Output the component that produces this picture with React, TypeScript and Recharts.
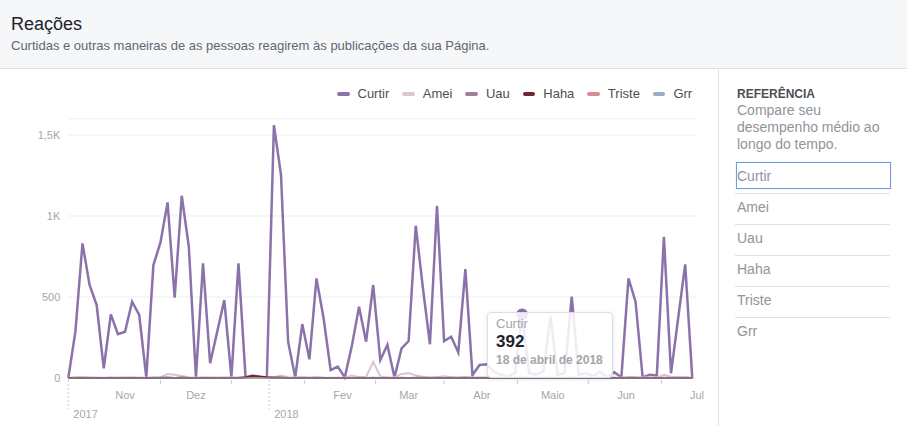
import React from "react";
import { LineChart, Line, XAxis, YAxis, CartesianGrid, Tooltip, Legend } from "recharts";

const FONT = "'Liberation Sans', Arial, Helvetica, sans-serif";

// Data: one point every 3 days starting on 8 Oct 2017
const START = { y: 2017, m: 9, d: 8 };
const STEP_DAYS = 3;

const curtir = [
  0, 286, 831, 574, 450, 60, 393, 271, 286, 471, 389, 4, 697, 837, 1084, 496, 1125, 810, 4, 708,
  91, 286, 481, 4, 708, 4, 15, 5, 3, 1561, 1253, 224, 4, 333, 115, 615, 370, 49, 70, 4,
  200, 440, 224, 574, 111, 204, 4, 183, 228, 940, 560, 208, 1063, 228, 255, 158, 672, 18, 80, 85,
  40, 20, 10, 30, 392, 30, 20, 40, 380, 20, 30, 502, 20, 30, 10, 40, 5, 35, 5, 615,
  471, 4, 20, 15, 872, 29, 365, 701, 0,
];
const amei = [
  2, 3, 2, 2, 3, 2, 2, 3, 4, 2, 3, 2, 3, 5, 25, 20, 12, 5, 3, 2,
  4, 3, 2, 3, 2, 3, 2, 2, 3, 5, 15, 5, 3, 4, 3, 5, 3, 2, 3, 2,
  15, 5, 8, 100, 10, 5, 3, 25, 30, 15, 8, 5, 6, 10, 5, 4, 6, 3, 4, 3,
  3, 4, 2, 3, 10, 4, 3, 2, 5, 3, 4, 6, 3, 2, 3, 4, 2, 3, 2, 6,
  5, 3, 4, 3, 20, 8, 4, 5, 2,
];
const uau = [
  0, 1, 0, 1, 0, 0, 1, 0, 0, 1, 0, 0, 1, 2, 1, 0, 1, 0, 0, 1,
  0, 0, 1, 0, 1, 0, 0, 0, 0, 3, 2, 0, 0, 1, 0, 1, 0, 0, 0, 0,
  0, 1, 0, 2, 0, 0, 0, 1, 0, 2, 1, 0, 2, 0, 1, 0, 1, 0, 0, 0,
  0, 0, 0, 0, 1, 0, 0, 0, 1, 0, 0, 1, 0, 0, 0, 0, 0, 0, 0, 1,
  1, 0, 0, 0, 2, 0, 1, 1, 0,
];
const haha = [
  0, 0, 1, 0, 0, 0, 0, 0, 0, 0, 0, 0, 0, 0, 1, 0, 1, 0, 0, 0,
  0, 0, 0, 0, 0, 4, 12, 10, 4, 1, 1, 0, 0, 0, 0, 0, 0, 0, 0, 0,
  0, 0, 0, 0, 0, 0, 0, 0, 0, 0, 0, 0, 0, 0, 0, 0, 0, 0, 0, 0,
  0, 0, 0, 0, 0, 0, 0, 0, 0, 0, 0, 0, 0, 0, 0, 0, 0, 0, 0, 0,
  0, 0, 0, 0, 0, 0, 0, 0, 0,
];
const triste = new Array(89).fill(0) as number[];
const grr = new Array(89).fill(0) as number[];

// legend order
const SERIES = [
  { key: "Curtir", color: "#8b72aa", values: curtir, width: 2.5, opacity: 1 },
  { key: "Amei", color: "#d9c6ce", values: amei, width: 2, opacity: 1 },
  { key: "Uau", color: "#a07f98", values: uau, width: 2, opacity: 1 },
  { key: "Haha", color: "#6e2631", values: haha, width: 2, opacity: 1 },
  { key: "Triste", color: "#d98b91", values: triste, width: 2, opacity: 1 },
  { key: "Grr", color: "#9caac9", values: grr, width: 2, opacity: 0.55 },
];
// drawing order (bottom -> top)
const DRAW_ORDER = ["Curtir", "Amei", "Uau", "Triste", "Haha", "Grr"];

// Axis ticks (days since start)
const monthTicks = [
  { day: 24, label: "Nov" },
  { day: 54, label: "Dez" },
  { day: 116, label: "Fev" },
  { day: 144, label: "Mar" },
  { day: 175, label: "Abr" },
  { day: 205, label: "Maio" },
  { day: 236, label: "Jun" },
  { day: 266, label: "Jul" },
];
const yearTicks = [
  { day: 0, label: "2017" },
  { day: 85, label: "2018" },
];
const midMonthTicks = [39, 69, 100, 130, 159, 190, 220, 251];
const yTicks = [0, 500, 1000, 1500];

const monthNames = ["janeiro", "fevereiro", "março", "abril", "maio", "junho", "julho", "agosto", "setembro", "outubro", "novembro", "dezembro"];
const sideItems = ["Amei", "Uau", "Haha", "Triste", "Grr"];
const TOOLTIP_INDEX = 64;

const data = curtir.map((_, i) => {
  const row: any = { day: i * STEP_DAYS };
  SERIES.forEach((s) => (row[s.key] = s.values[i]));
  return row;
});

const allTicks = [...yearTicks.map((t) => t.day), ...monthTicks.map((t) => t.day), ...midMonthTicks].sort((a, b) => a - b);

const fmtY = (v: number) => (v >= 1000 ? String(v / 1000).replace(".", ",") + "K" : String(v));

const XTick = (props: any) => {
  const { x, y, payload } = props;
  const v = payload.value;
  const m = monthTicks.find((t) => t.day === v);
  const yr = yearTicks.find((t) => t.day === v);
  if (yr) {
    return (
      <g>
        <line x1={x} x2={x} y1={y + 2} y2={y + 31} stroke="#c9ccd1" strokeDasharray="2 2" />
        <text x={x + 5} y={y + 40} fill="#a4a7ad" fontSize={11} fontFamily={FONT}>{yr.label}</text>
      </g>
    );
  }
  if (m) {
    return (
      <text x={x} y={y + 21} textAnchor="middle" fill="#a4a7ad" fontSize={11} fontFamily={FONT}>{m.label}</text>
    );
  }
  return <line x1={x} x2={x} y1={y + 2} y2={y + 6} stroke="#c9ccd1" />;
};

const dateLabel = (day: number) => {
  const d = new Date(START.y, START.m, START.d + day);
  return `${d.getDate()} de ${monthNames[d.getMonth()]} de ${d.getFullYear()}`;
};

const TooltipBox = (props: any) => {
  const { active, payload } = props;
  if (!active || !payload || !payload.length) return null;
  const p = payload.find((q: any) => q.dataKey === "Curtir") || payload[0];
  return (
    <div
      style={{
        width: 126,
        height: 66,
        boxSizing: "border-box",
        background: "rgba(255,255,255,0.86)",
        border: "1px solid #dddfe2",
        borderRadius: 4,
        boxShadow: "0 1px 4px rgba(0,0,0,0.12)",
        padding: "3px 8px",
        fontFamily: FONT,
      }}
    >
      <div style={{ fontSize: 13, lineHeight: "16px", color: "#a3a6ab" }}>{p.name}</div>
      <div style={{ fontSize: 17, lineHeight: "20px", fontWeight: "bold", color: "#1d2129" }}>{p.value}</div>
      <div style={{ fontSize: 12, lineHeight: "16px", fontWeight: "bold", color: "#a3a6ab", whiteSpace: "nowrap" }}>
        {dateLabel(p.payload.day)}
      </div>
    </div>
  );
};

const LegendContent = (props: any) => {
  const items = [...(props.payload || [])].sort(
    (a: any, b: any) => SERIES.findIndex((s) => s.key === a.value) - SERIES.findIndex((s) => s.key === b.value)
  );
  return (
    <div style={{ display: "flex", alignItems: "center", fontFamily: FONT, fontSize: 13, lineHeight: "16px", color: "#4b4f56", whiteSpace: "nowrap" }}>
      {items.map((it: any) => {
        const s = SERIES.find((q) => q.key === it.value);
        return (
          <div key={it.value} style={{ display: "flex", alignItems: "center", marginRight: 13 }}>
            <span style={{ display: "inline-block", width: 12.5, height: 3.5, borderRadius: 2, background: s ? s.color : it.color, marginRight: 8 }} />
            <span>{it.value}</span>
          </div>
        );
      })}
    </div>
  );
};

export default function App() {
  const drawn = DRAW_ORDER.map((k) => SERIES.find((s) => s.key === k)!);
  return (
    <div style={{ position: "absolute", left: 0, top: 0, width: 907, height: 426, background: "#fff", fontFamily: FONT, overflow: "hidden" }}>
      {/* header */}
      <div style={{ position: "absolute", left: 0, top: 0, width: 907, height: 68, background: "#f6f7f9", borderBottom: "1px solid #dddfe2" }} />
      <div style={{ position: "absolute", left: 11, top: 12.8, fontSize: 18, lineHeight: "22px", color: "#1d2129", whiteSpace: "nowrap" }}>Reações</div>
      <div style={{ position: "absolute", left: 11, top: 38, fontSize: 13, lineHeight: "16px", color: "#606770", whiteSpace: "nowrap" }}>
        Curtidas e outras maneiras de as pessoas reagirem às publicações da sua Página.
      </div>

      {/* chart */}
      <div style={{ position: "absolute", left: 0, top: 69 }}>
        <LineChart width={718} height={357} data={data} margin={{ top: 49.8, right: 21, bottom: 8, left: 0 }}>
          <CartesianGrid vertical={false} stroke="#ebedf0" />
          <XAxis
            dataKey="day"
            type="number"
            domain={[0, 266]}
            ticks={allTicks}
            interval={0}
            tick={<XTick />}
            tickLine={false}
            tickSize={0}
            tickMargin={0}
            axisLine={false}
            height={40}
          />
          <YAxis
            width={68.3}
            domain={[0, 1600]}
            ticks={yTicks}
            tickFormatter={fmtY}
            axisLine={false}
            tickLine={false}
            tick={{ fill: "#a4a7ad", fontSize: 11, fontFamily: FONT }}
          />
          <Legend
            layout="horizontal"
            verticalAlign="middle"
            align="center"
            wrapperStyle={{ top: 17, left: 337, width: 380, height: 16 }}
            content={<LegendContent />}
          />
          <Tooltip
            content={<TooltipBox />}
            defaultIndex={TOOLTIP_INDEX}
            position={{ x: 487, y: 243 }}
            cursor={false}
            isAnimationActive={false}
          />
          {drawn.map((s) => (
            <Line
              key={s.key}
              type="linear"
              dataKey={s.key}
              name={s.key}
              stroke={s.color}
              strokeWidth={s.width}
              strokeOpacity={s.opacity}
              dot={false}
              activeDot={s.key === "Curtir" ? { r: 5, fill: s.color, stroke: s.color } : false}
              isAnimationActive={false}
            />
          ))}
        </LineChart>
      </div>

      {/* right panel */}
      <div style={{ position: "absolute", left: 718, top: 69, width: 1, height: 357, background: "#dddfe2" }} />
      <div style={{ position: "absolute", left: 737, top: 86.8, fontSize: 12, lineHeight: "14px", fontWeight: "bold", color: "#4b4f56" }}>REFERÊNCIA</div>
      <div style={{ position: "absolute", left: 737, top: 102.2, width: 150, fontSize: 14, lineHeight: "17px", color: "#90949c" }}>
        Compare seu
        <br />
        desempenho médio ao
        <br />
        longo do tempo.
      </div>
      <div
        style={{
          position: "absolute",
          left: 735.5,
          top: 162,
          width: 155,
          height: 27,
          boxSizing: "border-box",
          border: "1px solid #6f9fe0",
          boxShadow: "0 0 1px rgba(80,140,230,0.4)",
        }}
      />
      <div style={{ position: "absolute", left: 737, top: 168.2, fontSize: 14, lineHeight: "16px", color: "#90949c" }}>Curtir</div>
      {sideItems.map((t, i) => (
        <React.Fragment key={t}>
          <div style={{ position: "absolute", left: 735, top: 193 + i * 31, width: 155, height: 1, background: "#dddfe2" }} />
          <div style={{ position: "absolute", left: 737, top: 198.8 + i * 31, fontSize: 14, lineHeight: "16px", color: "#90949c" }}>{t}</div>
        </React.Fragment>
      ))}
    </div>
  );
}
